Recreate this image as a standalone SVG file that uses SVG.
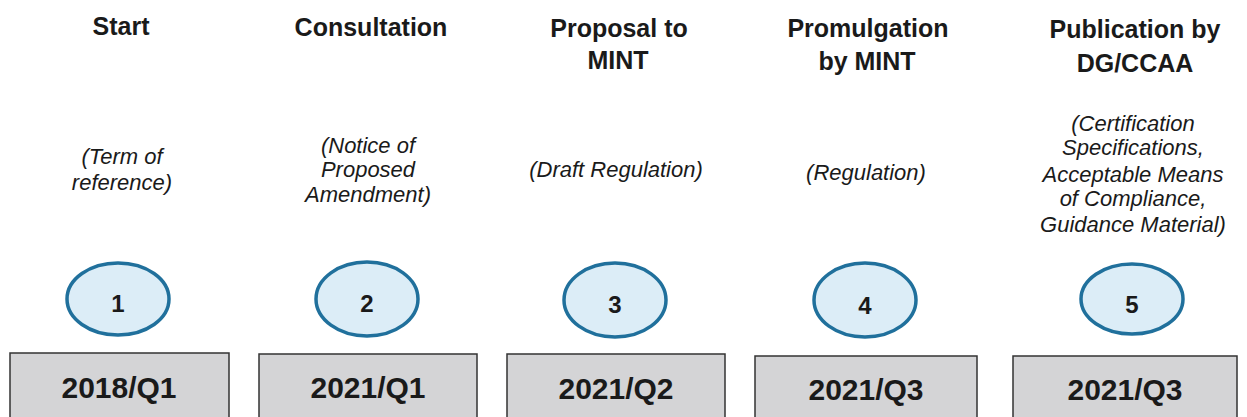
<svg xmlns="http://www.w3.org/2000/svg" width="1247" height="417" viewBox="0 0 1247 417">
<style>
.title{font-family:"Liberation Sans",Arial,sans-serif;font-weight:bold;font-size:25px;fill:#1a1a1a;text-anchor:middle}
.sub{font-family:"Liberation Sans",Arial,sans-serif;font-style:italic;font-size:22px;fill:#1a1a1a;text-anchor:middle}
.num{font-family:"Liberation Sans",Arial,sans-serif;font-weight:bold;font-size:24px;fill:#1a1a1a;text-anchor:middle}
.date{font-family:"Liberation Sans",Arial,sans-serif;font-weight:bold;font-size:30px;fill:#1a1a1a;text-anchor:middle}
.oval{fill:#dcedf7;stroke:#20709c;stroke-width:3.5}
.box{fill:#d4d4d6;stroke:#333333;stroke-width:1.5}
</style>
<rect width="1247" height="417" fill="#ffffff"/>
<g id="step1">
<text class="title" x="121" y="35">Start</text>
<text class="sub" x="122" y="164">(Term of</text>
<text class="sub" x="122" y="190">reference)</text>
<ellipse class="oval" cx="118" cy="299" rx="51" ry="36"/>
<text class="num" x="118" y="312">1</text>
<rect class="box" x="10" y="353" width="219" height="70"/>
<text class="date" x="119" y="398">2018/Q1</text>
</g>
<g id="step2">
<text class="title" x="371" y="36">Consultation</text>
<text class="sub" x="368" y="153">(Notice of</text>
<text class="sub" x="368" y="177">Proposed</text>
<text class="sub" x="368" y="202">Amendment)</text>
<ellipse class="oval" cx="367" cy="299" rx="51" ry="37"/>
<text class="num" x="367" y="312">2</text>
<rect class="box" x="259" y="354" width="218" height="70"/>
<text class="date" x="368" y="398">2021/Q1</text>
</g>
<g id="step3">
<text class="title" x="619" y="37">Proposal to</text>
<text class="title" x="618" y="69">MINT</text>
<text class="sub" x="616" y="177">(Draft Regulation)</text>
<ellipse class="oval" cx="615" cy="300" rx="51" ry="37"/>
<text class="num" x="615" y="313">3</text>
<rect class="box" x="507" y="354" width="218" height="70"/>
<text class="date" x="616" y="399">2021/Q2</text>
</g>
<g id="step4">
<text class="title" x="868" y="37">Promulgation</text>
<text class="title" x="867" y="70">by MINT</text>
<text class="sub" x="866" y="180">(Regulation)</text>
<ellipse class="oval" cx="865" cy="300" rx="51" ry="37"/>
<text class="num" x="865" y="314">4</text>
<rect class="box" x="755" y="356" width="222" height="70"/>
<text class="date" x="866" y="400">2021/Q3</text>
</g>
<g id="step5">
<text class="title" x="1135" y="38">Publication by</text>
<text class="title" x="1135" y="72">DG/CCAA</text>
<text class="sub" x="1133" y="131">(Certification</text>
<text class="sub" x="1133" y="155">Specifications,</text>
<text class="sub" x="1133" y="182">Acceptable Means</text>
<text class="sub" x="1133" y="206">of Compliance,</text>
<text class="sub" x="1133" y="232">Guidance Material)</text>
<ellipse class="oval" cx="1132" cy="299" rx="51" ry="35"/>
<text class="num" x="1132" y="313">5</text>
<rect class="box" x="1013" y="356" width="224" height="70"/>
<text class="date" x="1125" y="400">2021/Q3</text>
</g>
<g id="connectors"></g>
</svg>
